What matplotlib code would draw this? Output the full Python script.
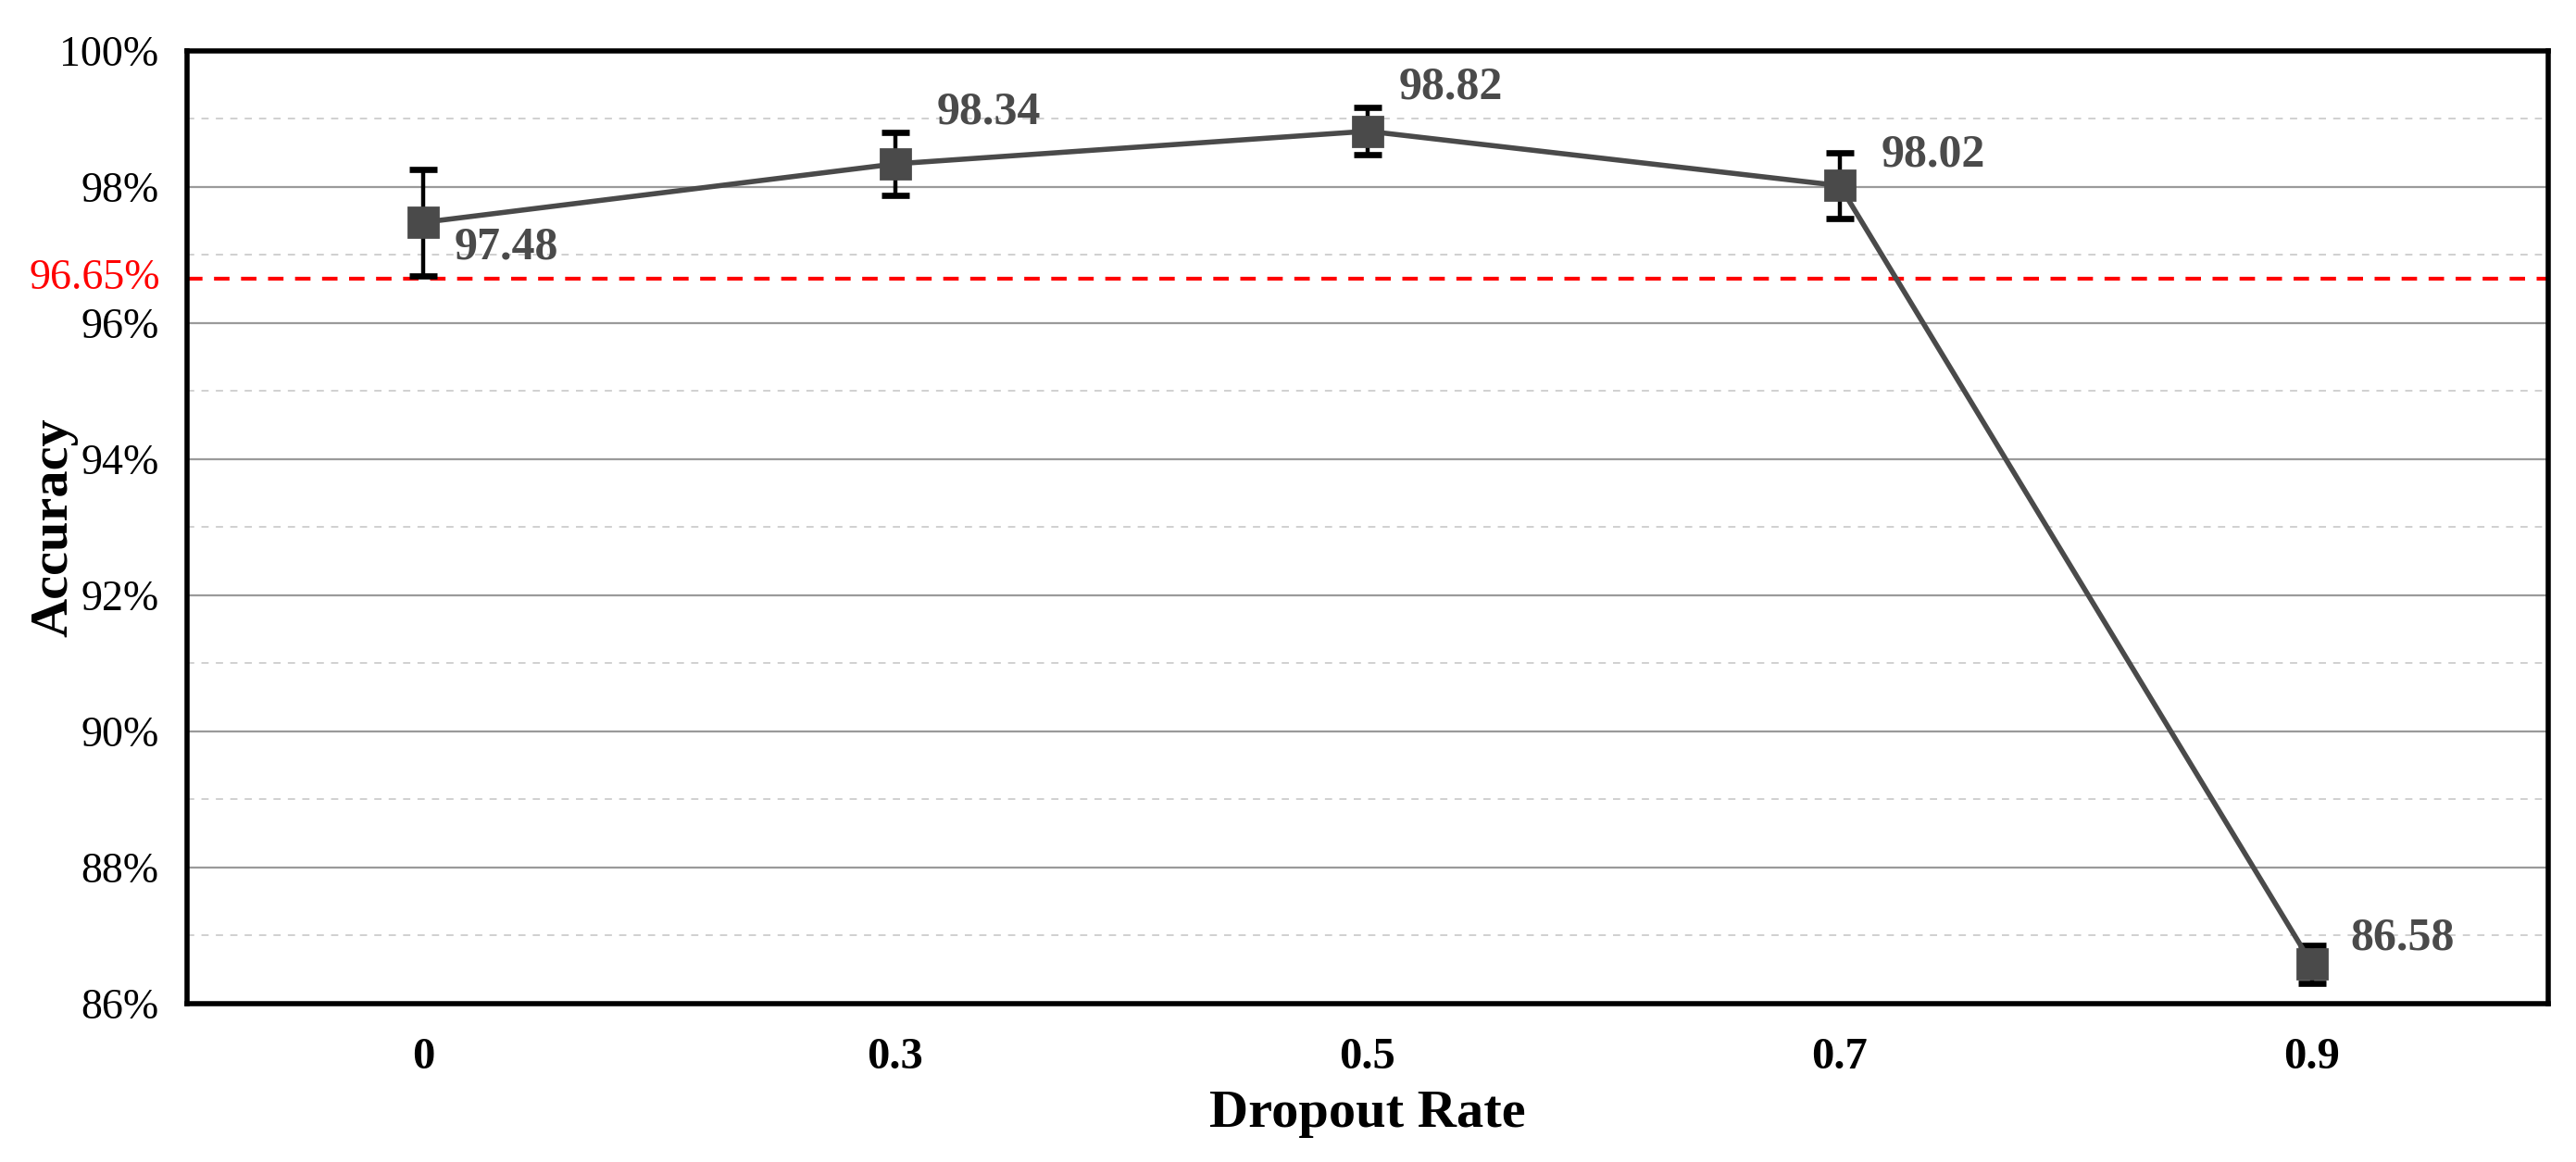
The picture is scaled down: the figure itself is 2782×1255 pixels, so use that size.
import matplotlib.pyplot as plt
from matplotlib.ticker import MultipleLocator, FuncFormatter

# dati
rates = ["0", "0.3", "0.5", "0.7", "0.9"]
accuracy = [97.48, 98.34, 98.82, 98.02, 86.58]
errors = [0.78, 0.46, 0.35, 0.48, 0.28]
baseline = 96.65

# spostamento delle etichette (punti)
label_offsets = [(12, -10), (16, 20), (12, 17), (16, 12), (15, 10)]

plt.rcParams["font.family"] = ["Liberation Serif", "DejaVu Serif"]

fig = plt.figure(figsize=(13.91, 6.275), dpi=200)
ax = fig.add_axes([0.0726, 0.1363, 0.9166, 0.8199])

x = list(range(len(rates)))
line_color = "#4a4a4a"

ax.errorbar(x, accuracy, yerr=errors, fmt="none", ecolor="black",
            elinewidth=1.6, capsize=5.5, capthick=2.4, zorder=3)
ax.plot(x, accuracy, color=line_color, linewidth=2, marker="s",
        markersize=11.5, markerfacecolor=line_color,
        markeredgecolor=line_color, zorder=4)

for xi, yi, off in zip(x, accuracy, label_offsets):
    ax.annotate(f"{yi:.2f}", (xi, yi), xytext=off, textcoords="offset points",
                ha="left", va="center", fontsize=18, fontweight="bold",
                color=line_color, zorder=5)

# linea di riferimento
ax.axhline(baseline, color="red", linestyle=(0, (4, 3)), linewidth=1.5, zorder=2)
ax.text(-0.0115, baseline, f"{baseline:.2f}%", transform=ax.get_yaxis_transform(),
        ha="right", va="center", color="red", fontsize=16.5)

ax.set_xlim(-0.5, len(rates) - 0.5)
ax.set_ylim(86, 100)
ax.set_xticks(x)
ax.set_xticklabels(rates, fontweight="bold", fontsize=17.5)
ax.yaxis.set_major_locator(MultipleLocator(2))
ax.yaxis.set_minor_locator(MultipleLocator(1))
ax.yaxis.set_major_formatter(FuncFormatter(lambda v, p: f"{v:.0f}%"))
ax.tick_params(axis="y", which="major", length=0, pad=11, labelsize=16.5)
ax.tick_params(axis="y", which="minor", length=0)
ax.tick_params(axis="x", length=0, pad=13)

ax.grid(axis="y", which="major", color="#9a9a9a", linewidth=0.8, zorder=0)
ax.grid(axis="y", which="minor", color="#d0d0d0", linewidth=0.7,
        linestyle=(0, (4, 4)), zorder=0)
ax.set_axisbelow(True)

for s in ax.spines.values():
    s.set_linewidth(2)
    s.set_color("black")

ax.set_xlabel("Dropout Rate", fontsize=21, fontweight="bold", va="center")
ax.set_ylabel("Accuracy", fontsize=21, fontweight="bold", va="center")
ax.xaxis.set_label_coords(0.5, -0.1156)
ax.yaxis.set_label_coords(-0.0565, 0.5)

fig.savefig("out.png", dpi=200)
